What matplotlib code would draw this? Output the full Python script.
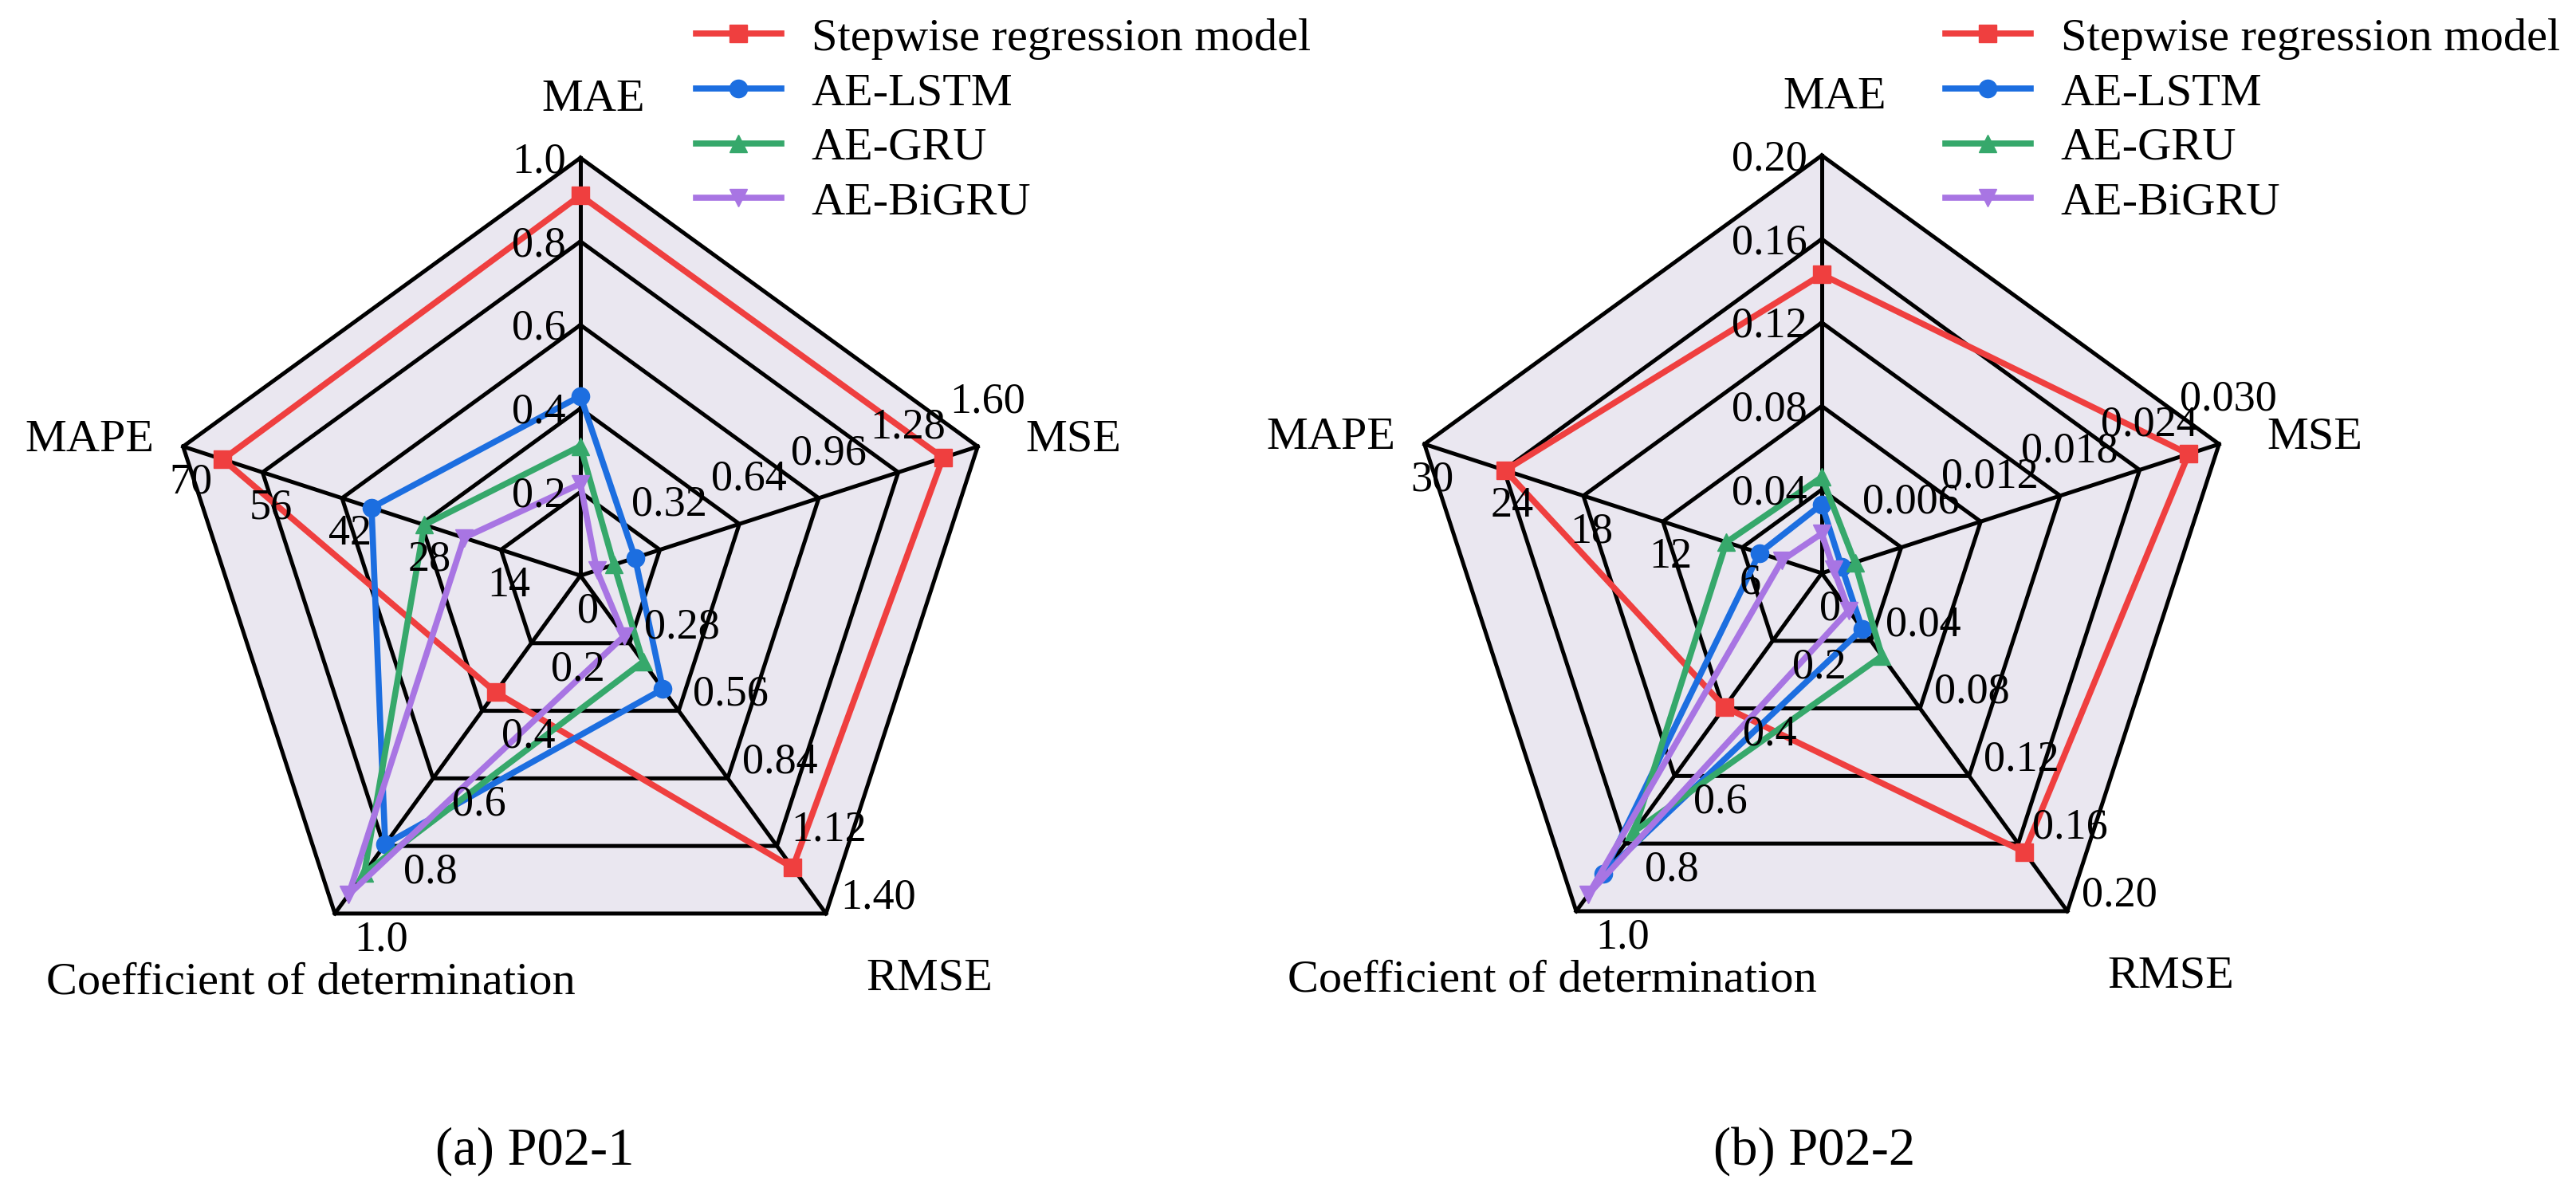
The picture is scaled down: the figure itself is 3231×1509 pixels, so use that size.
import numpy as np
import matplotlib
matplotlib.use('Agg')
import matplotlib.pyplot as plt

plt.rcParams['font.family'] = ['Liberation Serif', 'DejaVu Serif']

# radar axes (clockwise from top)
metrics = ['MAE', 'MSE', 'RMSE', 'Coefficient of determination', 'MAPE']
models = ['Stepwise regression model', 'AE-LSTM', 'AE-GRU', 'AE-BiGRU']
colors = ['#EF3F3F', '#1C6EE0', '#36A86B', '#A875E3']
markers = ['s', 'o', '^', 'v']

# (a) P02-1
p1_max = [1.0, 1.60, 1.40, 1.0, 70]
p1_ticks = [['0.2', '0.4', '0.6', '0.8', '1.0'],
            ['0.32', '0.64', '0.96', '1.28', '1.60'],
            ['0.28', '0.56', '0.84', '1.12', '1.40'],
            ['0.2', '0.4', '0.6', '0.8', '1.0'],
            ['0', '14', '28', '42', '56', '70']]
p1_stepwise = [0.91, 1.46, 1.21, 0.345, 63.0]
p1_lstm = [0.43, 0.22, 0.47, 0.795, 36.8]
p1_gru = [0.31, 0.135, 0.357, 0.88, 27.5]
p1_bigru = [0.22, 0.066, 0.25, 0.944, 20.5]

# (b) P02-2
p2_max = [0.20, 0.030, 0.20, 1.0, 30]
p2_ticks = [['0.04', '0.08', '0.12', '0.16', '0.20'],
            ['0.006', '0.012', '0.018', '0.024', '0.030'],
            ['0.04', '0.08', '0.12', '0.16', '0.20'],
            ['0.2', '0.4', '0.6', '0.8', '1.0'],
            ['0', '6', '12', '18', '24', '30']]
p2_stepwise = [0.143, 0.0277, 0.165, 0.396, 23.9]
p2_lstm = [0.033, 0.0015, 0.033, 0.89, 4.7]
p2_gru = [0.046, 0.0025, 0.049, 0.765, 7.2]
p2_bigru = [0.019, 0.0009, 0.022, 0.95, 3.0]

angles = np.deg2rad([90, 18, -54, -126, 162])
levels = [0.2, 0.4, 0.6, 0.8, 1.0]

# label placement: text centre (radius units) and tick offsets (pixels)
name_pos = [(0.03, 1.14), (1.18, 0.325), (0.835, -0.965), (-0.645, -0.975), (-1.175, 0.325)]
tick_style = [((-18, -5), 'right', 'center'),
              ((12, 56), 'center', 'center'),
              ((18, 20), 'left', 'center'),
              ((58, -33), 'center', 'center'),
              ((10, -45), 'center', 'center')]

W, H = 3231, 1509
fig = plt.figure(figsize=(W / 100, H / 100), dpi=100)
R = 524
half = 1.2


def radar(cx, cy, maxes, ticks, series, caption, cap_x, leg_x):
    ax = fig.add_axes([(cx - half * R) / W, (H - cy - half * R) / H, 2 * half * R / W, 2 * half * R / H])
    ax.set_xlim(-half, half)
    ax.set_ylim(-half, half)
    ax.axis('off')

    cosA, sinA = np.cos(angles), np.sin(angles)
    ax.fill(np.r_[cosA, cosA[0]], np.r_[sinA, sinA[0]], color='#EAE7F0', zorder=0)
    for lv in levels:
        ax.plot(np.r_[cosA, cosA[0]] * lv, np.r_[sinA, sinA[0]] * lv, color='black', lw=3.6,
                solid_joinstyle='miter', zorder=1)
    for a in angles:
        ax.plot([0, np.cos(a)], [0, np.sin(a)], color='black', lw=3.6, zorder=1)

    for vals, c, m, name in zip(series, colors, markers, models):
        r = np.array(vals) / np.array(maxes)
        xs = r * cosA
        ys = r * sinA
        ax.plot(np.r_[xs, xs[0]], np.r_[ys, ys[0]], color=c, lw=5.5, marker=m, markersize=16,
                markevery=list(range(5)), label=name, zorder=3, clip_on=False)

    for i, a in enumerate(angles):
        off, ha, va = tick_style[i]
        for s in ticks[i]:
            rr = float(s) / maxes[i]
            ax.annotate(s, xy=(rr * np.cos(a), rr * np.sin(a)), xytext=off, textcoords='offset pixels',
                        ha=ha, va=va, fontsize=39, zorder=5)
        ax.text(name_pos[i][0], name_pos[i][1], metrics[i], ha='center', va='center', fontsize=42)

    ax.legend(loc='upper left', bbox_to_anchor=(leg_x / W, 1 - 22 / H), bbox_transform=fig.transFigure,
              frameon=False, fontsize=42, handlelength=1.83, handletextpad=0.65, labelspacing=0.27,
              borderpad=0, borderaxespad=0, markerscale=1.0)
    fig.text(cap_x / W, 1 - 1444 / H, caption, ha='center', va='center', fontsize=48)


radar(728, 722, p1_max, p1_ticks, [p1_stepwise, p1_lstm, p1_gru, p1_bigru], '(a) P02-1', 671, 873)
radar(2285, 719, p2_max, p2_ticks, [p2_stepwise, p2_lstm, p2_gru, p2_bigru], '(b) P02-2', 2276, 2440)

fig.savefig('out.png', dpi=100, facecolor='white')
